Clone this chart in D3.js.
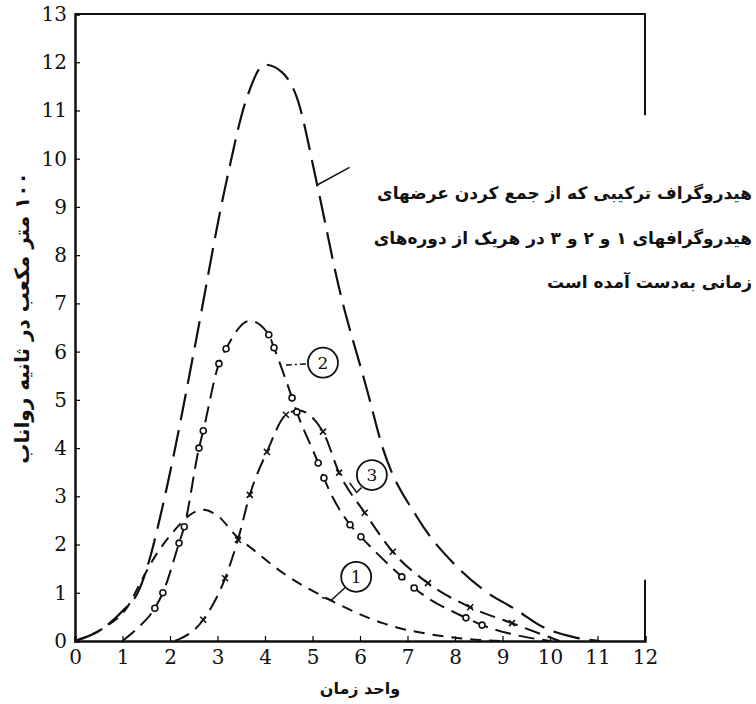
<!DOCTYPE html>
<html>
<head>
<meta charset="utf-8">
<script src="https://cdn.jsdelivr.net/npm/d3@7"></script>
<style>
  body { margin: 0; background: #fff; }
  .fa { font-family: 'DejaVu Sans', sans-serif; fill: #111; }
</style>
</head>
<body>
<svg width="756" height="704"></svg>
<script>
// hydrograph readings (time unit, 100 m3/s)
const composite = [[0, 0], [0.6, 0.27], [1.0, 0.62], [1.35, 1.06], [1.6, 1.8], [1.8, 2.6], [2.1, 3.96],
  [2.53, 6.14], [3.16, 9.4], [3.62, 11.27], [4.0, 11.95], [4.35, 11.8], [4.67, 11.27], [5.1, 9.45],
  [5.54, 7.4], [6.15, 5.2], [6.48, 4.0], [7.2, 2.57], [8.04, 1.54], [8.6, 1.06], [9.3, 0.64],
  [9.85, 0.29], [10.5, 0.08], [11.05, 0]]
const hydro1 = [[0, 0], [0.6, 0.27], [1.1, 0.7], [1.41, 1.27], [1.64, 1.68], [2.1, 2.3], [2.4, 2.6],
  [2.7, 2.72], [3.0, 2.6], [3.41, 2.16], [3.68, 1.95], [4.38, 1.41], [5.37, 0.85], [6.48, 0.37],
  [7.9, 0.08], [9, 0]]
const hydro2 = [[1.0, 0], [1.3, 0.25], [1.68, 0.68], [1.85, 1.0], [2.19, 2.03], [2.3, 2.37], [2.61, 4.0],
  [2.7, 4.36], [3.03, 5.75], [3.18, 6.06], [3.68, 6.64], [4.08, 6.35], [4.19, 6.08], [4.57, 5.04],
  [4.67, 4.75], [5.12, 3.69], [5.24, 3.38], [5.79, 2.41], [6.02, 2.16], [6.88, 1.33], [7.14, 1.1],
  [8.23, 0.48], [8.57, 0.33], [9.3, 0.12], [10, 0]]
const hydro3 = [[2.1, 0], [2.7, 0.44], [3.16, 1.3], [3.43, 2.1], [3.68, 3.03], [4.04, 3.92], [4.44, 4.69],
  [4.7, 4.78], [5.22, 4.34], [5.56, 3.49], [6.1, 2.66], [6.69, 1.85], [7.43, 1.2], [8.32, 0.7],
  [9.2, 0.37], [10.2, 0]]
// marked points
const marks2 = hydro2.filter((d, i) => i > 1 && i < hydro2.length - 2 && d[0] !== 3.68)
const marks3 = hydro3.filter((d, i) => i > 0 && i < hydro3.length - 1 && d[0] !== 4.7)

const xTicks = d3.range(0, 13)
const yTicks = d3.range(0, 14)

const xTitle = 'واحد زمان'
const yTitle = '۱۰۰ متر مکعب در ثانیه رواناب'
const note = ['هیدروگراف ترکیبی که از جمع کردن عرضهای',
  'هیدروگرافهای ۱ و ۲ و ۳ در هریک از دوره\u200Cهای',
  'زمانی به\u200Cدست آمده است']
// circled labels: [text, x, y]
const labels = [['2', 5.22, 5.77], ['3', 6.25, 3.44], ['1', 5.92, 1.33]]

const svg = d3.select('svg')
const x = d3.scaleLinear().domain([0, 12]).range([75, 645])
const y = d3.scaleLinear().domain([0, 13]).range([641, 14])

const line = d3.line()
  .x((d) => x(d[0]))
  .y((d) => y(d[1]))
  .curve(d3.curveMonotoneX)

// frame
svg.append('path')
  .attr('d', `M${x(0)},${y(13)}H${x(12)}V${y(10.9)}M${x(12)},${y(1.27)}V${y(0)}`)
  .attr('fill', 'none').attr('stroke', '#111').attr('stroke-width', 2)

const styleAxis = (g) => {
  g.attr('font-family', 'DejaVu Serif').attr('font-size', 20)
  g.select('.domain').attr('stroke', '#111').attr('stroke-width', 2.5)
  g.selectAll('.tick line').attr('stroke-width', 1.2)
  g.selectAll('.tick text').attr('fill', '#111')
}

svg.append('g')
  .attr('transform', `translate(0,${y(0)})`)
  .call(d3.axisBottom(x).tickValues(xTicks).tickSize(-5).tickPadding(9).tickFormat(d3.format('d')))
  .call(styleAxis)

svg.append('g')
  .attr('transform', `translate(${x(0)},0)`)
  .call(d3.axisLeft(y).tickValues(yTicks).tickSize(-5).tickPadding(8).tickFormat(d3.format('d')))
  .call(styleAxis)

// curves
svg.append('path').datum(composite)
  .attr('d', line).attr('fill', 'none').attr('stroke', '#111')
  .attr('stroke-width', 2.2).attr('stroke-dasharray', '27,10')

svg.append('path').datum(hydro1)
  .attr('d', line).attr('fill', 'none').attr('stroke', '#111')
  .attr('stroke-width', 2).attr('stroke-dasharray', '11,8')

svg.append('path').datum(hydro2)
  .attr('d', line).attr('fill', 'none').attr('stroke', '#111')
  .attr('stroke-width', 2).attr('stroke-dasharray', '16,8')

svg.append('path').datum(hydro3)
  .attr('d', line).attr('fill', 'none').attr('stroke', '#111')
  .attr('stroke-width', 2).attr('stroke-dasharray', '16,8')

svg.selectAll('.m2').data(marks2).enter().append('circle')
  .attr('cx', (d) => x(d[0])).attr('cy', (d) => y(d[1])).attr('r', 3)
  .attr('fill', '#fff').attr('stroke', '#111').attr('stroke-width', 1.6)

svg.selectAll('.m3').data(marks3).enter().append('path')
  .attr('transform', (d) => `translate(${x(d[0])},${y(d[1])})`)
  .attr('d', 'M-3,-3L3,3M-3,3L3,-3')
  .attr('stroke', '#111').attr('stroke-width', 1.6)

// circled labels and leaders
svg.append('path')
  .attr('d', `M${x(4.44)},${y(5.72)}L${x(4.95)},${y(5.75)}`)
  .attr('stroke', '#111').attr('stroke-width', 1.5).attr('stroke-dasharray', '6,3,2,3')
svg.append('path')
  .attr('d', `M${x(5.78)},${y(3.28)}L${x(5.93)},${y(3.08)}L${x(6.03)},${y(3.18)}`)
  .attr('fill', 'none').attr('stroke', '#111').attr('stroke-width', 1.5)
svg.append('path')
  .attr('d', `M${x(5.2)},${y(0.9)}L${x(5.4)},${y(0.85)}L${x(5.7)},${y(1.12)}`)
  .attr('fill', 'none').attr('stroke', '#111').attr('stroke-width', 1.5)

const lab = svg.selectAll('.lab').data(labels).enter().append('g')
  .attr('transform', (d) => `translate(${x(d[1])},${y(d[2])})`)
lab.append('circle').attr('r', 15).attr('fill', '#fff').attr('stroke', '#111').attr('stroke-width', 1.8)
lab.append('text').text((d) => d[0])
  .attr('text-anchor', 'middle').attr('dy', '0.36em')
  .attr('font-family', 'DejaVu Serif').attr('font-size', 17).attr('fill', '#111')

// note for composite curve
svg.append('path')
  .attr('d', `M${x(5.09)},${y(9.45)}L${x(5.78)},${y(9.82)}`)
  .attr('stroke', '#111').attr('stroke-width', 1.5)
svg.append('g').selectAll('text').data(note).enter().append('text')
  .attr('class', 'fa')
  .attr('x', 752).attr('y', (d, i) => 199 + i * 44.5)
  .attr('direction', 'rtl')
  .attr('text-anchor', 'start')
  .style('font-size', '17px').style('font-weight', 'bold')
  .text((d) => d)

// titles
svg.append('text').attr('class', 'fa')
  .attr('x', 360).attr('y', 694).attr('text-anchor', 'middle')
  .attr('direction', 'rtl')
  .style('font-size', '16px').style('font-weight', 'bold')
  .text(xTitle)

svg.append('text').attr('class', 'fa')
  .attr('transform', 'translate(29,318) rotate(-90)')
  .attr('text-anchor', 'middle')
  .attr('direction', 'rtl')
  .style('font-size', '20px').style('font-weight', 'bold')
  .text(yTitle)
</script>
</body>
</html>
